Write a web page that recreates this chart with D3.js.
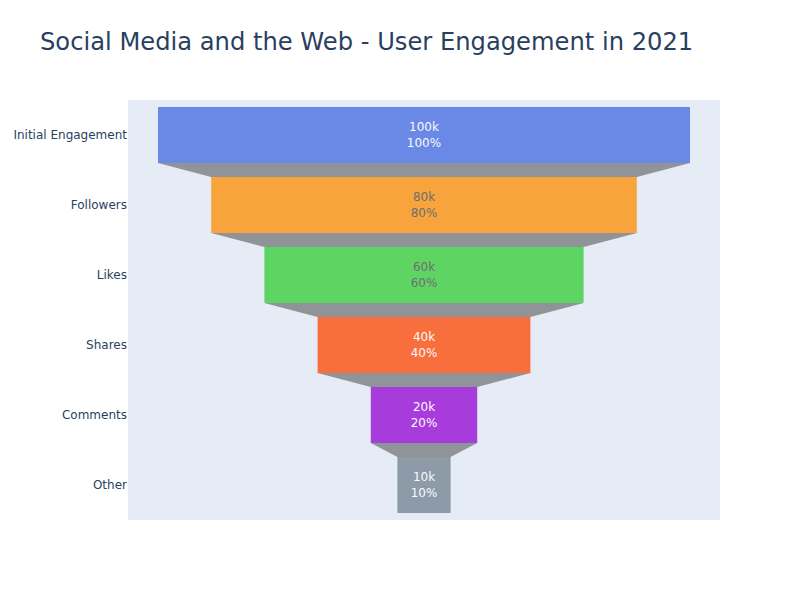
<!DOCTYPE html>
<html><head><meta charset="utf-8">
<script src="https://cdn.jsdelivr.net/npm/d3@7"></script>
<style>body{margin:0;background:#fff}svg{display:block;font-family:"DejaVu Sans",sans-serif}</style>
</head><body><div id="chart"></div>
<script>
const stages = ["Initial Engagement","Followers","Likes","Shares","Comments","Other"];
const values = [100000,80000,60000,40000,20000,10000];
const valueLabels = ["100k","80k","60k","40k","20k","10k"];
const percentLabels = ["100%","80%","60%","40%","20%","10%"];
const colors = ["royalblue","darkorange","limegreen","orangered","darkviolet","slategray"];
const textColors = ["#fff","#444","#444","#fff","#fff","#fff"];
const title = "Social Media and the Web - User Engagement in 2021";

const W=800,H=600, m={l:128,r:80,t:100,b:80};
const pw=W-m.l-m.r, ph=H-m.t-m.b;
const svg=d3.select("#chart").append("svg").attr("width",W).attr("height",H);
svg.append("rect").attr("x",m.l).attr("y",m.t).attr("width",pw).attr("height",ph).attr("fill","#e5ecf6");
const maxV=d3.max(values);
const x=d3.scaleLinear().domain([-maxV/2,maxV/2]).range([m.l+30,m.l+30+532]);
const y=d3.scaleBand().domain(stages).range([m.t,m.t+ph]).paddingInner(0.2).paddingOuter(0.1);
const g=svg.append("g").attr("opacity",0.75);
for(let i=0;i<stages.length-1;i++){
  const y0=y(stages[i])+y.bandwidth(), y1=y(stages[i+1]);
  const a=values[i]/2,b=values[i+1]/2;
  g.append("path").attr("d",`M${x(-a)},${y0}L${x(a)},${y0}L${x(b)},${y1}L${x(-b)},${y1}Z`)
   .attr("fill","#444").attr("fill-opacity",0.7);
}
stages.forEach((s,i)=>{
  const v=values[i];
  g.append("rect").attr("x",x(-v/2)).attr("y",y(s)).attr("width",x(v/2)-x(-v/2)).attr("height",y.bandwidth()).attr("fill",colors[i]);
  const cy=y(s)+y.bandwidth()/2;
  const t=g.append("text").attr("text-anchor","middle").attr("font-size",12).attr("fill",textColors[i]);
  t.append("tspan").attr("x",x(0)).attr("y",cy-4.5).text(valueLabels[i]);
  t.append("tspan").attr("x",x(0)).attr("y",cy+11.5).text(percentLabels[i]);
});
const yAxis=d3.axisLeft(y).tickSize(0).tickPadding(1);
const ya=svg.append("g").attr("transform",`translate(${m.l},0)`).call(yAxis);
ya.select(".domain").remove();
ya.selectAll("text").attr("font-size",12).attr("fill","#2a3f5f").attr("font-family","DejaVu Sans, sans-serif");
svg.append("text").attr("x",40).attr("y",50).attr("font-size",24.2).attr("fill","#2a3f5f").text(title);
</script></body></html>
